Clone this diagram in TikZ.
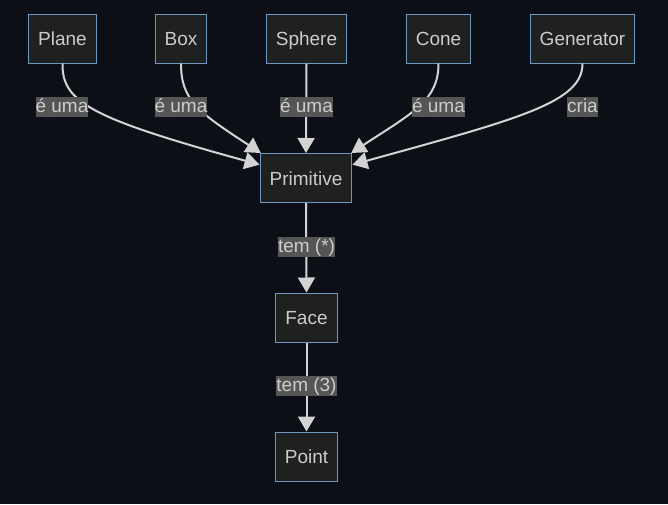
\documentclass[tikz,border=0pt]{standalone}
\usepackage{fontspec}
\setmainfont{Liberation Sans}
\usetikzlibrary{arrows.meta}
\definecolor{bgc}{RGB}{12,15,21}
\definecolor{nodefill}{RGB}{31,32,32}
\definecolor{nodeborder}{RGB}{110,152,194}
\definecolor{txt}{RGB}{204,204,204}
\definecolor{lblbg}{RGB}{85,85,85}
\definecolor{edge}{RGB}{211,211,211}
\tikzset{
  box/.style={draw=nodeborder, line width=1pt, fill=nodefill, text=txt,
    font=\fontsize{19}{22}\selectfont, inner xsep=9.5pt, inner ysep=0pt,
    minimum height=49pt, text height=14pt, text depth=0pt},
  lbl/.style={fill=lblbg, text=txt, font=\fontsize{19}{22}\selectfont,
    inner xsep=0pt, inner ysep=1pt, text height=14.5pt, text depth=3.5pt},
  conn/.style={draw=edge, line width=2pt,
    -{Triangle[length=15pt,width=17pt]}},
}
\begin{document}
\begin{tikzpicture}[x=1pt,y=-1pt]
\fill[bgc] (0,0) rectangle (668,504);
\useasboundingbox (0,0) rectangle (668,504);
% nodes
\node[box] (plane) at (62.5,38.5) {Plane};
\node[box] (boxn) at (181,38.5) {Box};
\node[box] (sphere) at (306.5,38.5) {Sphere};
\node[box] (cone) at (438.5,38.5) {Cone};
\node[box] (gen) at (582.5,38.5) {Generator};
\node[box] (prim) at (306,178) {Primitive};
\node[box] (face) at (306.5,317.5) {Face};
\node[box] (point) at (306.5,456.5) {Point};
% edges
\draw[conn] (plane.south) .. controls (62,102) and (90,118) .. (prim.164);
\draw[conn] (boxn.south) .. controls (181,100) and (198,112) .. (prim.151);
\draw[conn] (sphere.south) -- (prim.north);
\draw[conn] (cone.south) .. controls (438.5,100) and (414,112) .. (prim.29);
\draw[conn] (gen.south) .. controls (582.5,102) and (522,118) .. (prim.16);
\draw[conn] (prim.south) -- (face.north);
\draw[conn] (face.south) -- (point.north);
% labels
\node[lbl] (l1) at (62,106.5) {é uma};
\node[lbl] (l2) at (181,106.5) {é uma};
\node[lbl] (l3) at (306.5,106.5) {é uma};
\node[lbl] (l4) at (438.5,106.5) {é uma};
\node[lbl] (l5) at (582.5,106.5) {cria};
\node[lbl] (l6) at (306.5,246.5) {tem (*)};
\node[lbl] (l7) at (306.5,385.5) {tem (3)};
\end{tikzpicture}
\end{document}
